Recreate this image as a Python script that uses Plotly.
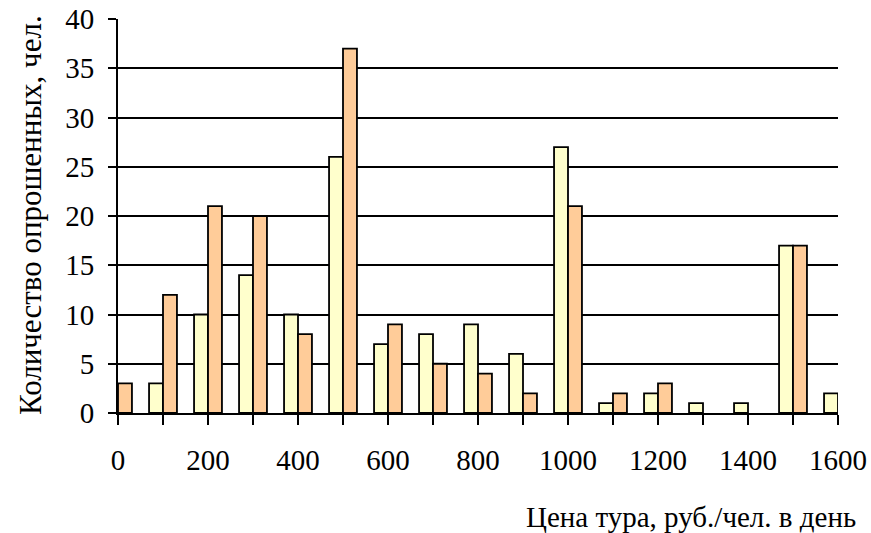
import plotly.graph_objects as go

# --------------------
# Data
# --------------------
price = [0, 100, 200, 300, 400, 500, 600, 700, 800, 900, 1000, 1100, 1200, 1300, 1400, 1500, 1600]
series_yellow = [0, 3, 10, 14, 10, 26, 7, 8, 9, 6, 27, 1, 2, 1, 1, 17, 2]
series_orange = [3, 12, 21, 20, 8, 37, 9, 5, 4, 2, 21, 2, 3, 0, 0, 17, 0]

x_tickvals = list(range(0, 1700, 100))
x_ticktext = [str(v) if v % 200 == 0 else "" for v in x_tickvals]

FONT = "Liberation Serif"
bar_w = 31

# zero counts are not drawn as bars
def no_zero(vals):
    return [v if v else None for v in vals]

# --------------------
# Plot
# --------------------
fig = go.Figure()

fig.add_trace(go.Bar(
    x=price, y=no_zero(series_yellow),
    width=bar_w, offset=-bar_w,
    marker=dict(color="#FFFFCC", line=dict(color="black", width=1.8)),
    showlegend=False,
))
fig.add_trace(go.Bar(
    x=price, y=no_zero(series_orange),
    width=bar_w, offset=0,
    marker=dict(color="#FFCC99", line=dict(color="black", width=1.8)),
    showlegend=False,
))

fig.update_layout(
    width=871, height=533,
    margin=dict(l=118, r=33, t=19, b=120),
    paper_bgcolor="white", plot_bgcolor="white",
    font=dict(family=FONT, size=29, color="black"),
    barmode="overlay",
    xaxis=dict(
        range=[0, 1600], automargin=False,
        tickvals=x_tickvals, ticktext=x_ticktext,
        ticks="outside", ticklen=10, tickwidth=1.8, tickcolor="black",
        showline=True, linecolor="black", linewidth=1.8,
        showgrid=False, zeroline=False,
        ticklabelstandoff=10,
    ),
    yaxis=dict(
        range=[0, 40], dtick=5, automargin=False,
        ticks="outside", ticklen=8, tickwidth=1.8, tickcolor="black",
        showline=True, linecolor="black", linewidth=1.8,
        showgrid=True, gridcolor="black", gridwidth=1.8,
        zeroline=False,
        ticklabelstandoff=8,
    ),
    annotations=[
        dict(text="Цена тура, руб./чел. в день", xref="paper", yref="paper",
             x=(858 - 118) / 720, y=-(517 - 413) / 394, xanchor="right", yanchor="middle",
             showarrow=False, font=dict(family=FONT, size=29)),
        dict(text="Количество опрошенных, чел.", xref="paper", yref="paper",
             x=-(118 - 30) / 720, y=(413 - 215) / 394, xanchor="center", yanchor="middle",
             textangle=-90, showarrow=False, font=dict(family=FONT, size=31)),
    ],
)

# drop the default 8px page margin so the figure sits at the window corner
fig.write_html("out.html", config={"displayModeBar": False},
               post_script="document.body.style.margin='0';")
